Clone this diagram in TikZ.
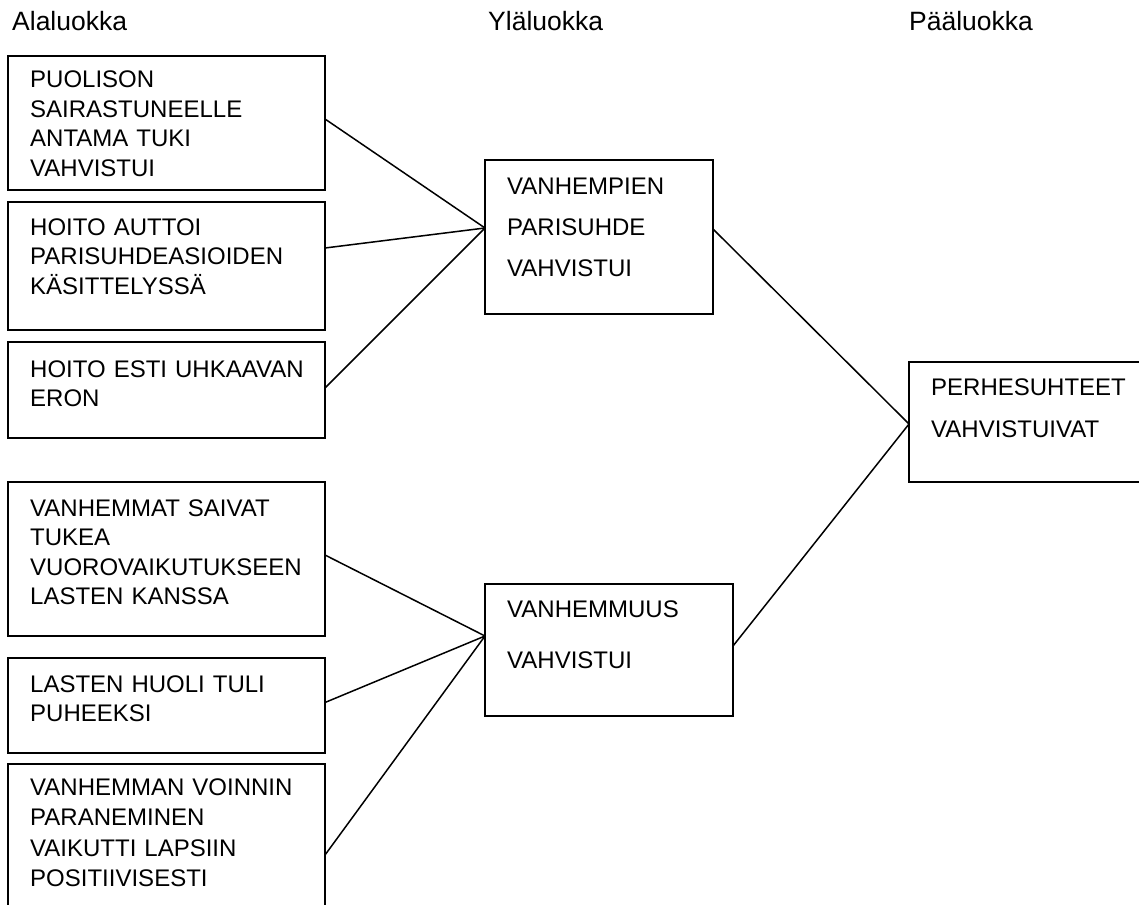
\documentclass[tikz,border=0pt]{standalone}
\usepackage{fontspec}
\setmainfont{Liberation Sans}
\usepackage{tikz}
\usetikzlibrary{calc}
\tikzset{
  box/.style={draw=black, line width=1.8pt, anchor=north west, inner sep=0pt, outer sep=0pt},
  txt/.style={anchor=base west, inner sep=0pt, align=left, text width=300pt, font=\fontsize{24}{29.5}\selectfont},
  head/.style={anchor=base west, inner sep=0pt, font=\fontsize{26.5}{30}\selectfont},
  link/.style={draw=black, line width=1.5pt, line cap=round},
}

\begin{document}
\begin{tikzpicture}[x=1pt,y=-1pt]
  \useasboundingbox (0,0) rectangle (1139,904);
  \clip (0,0) rectangle (1139,904);

  \node[head] (hala) at (12,31) {Alaluokka};
  \node[head] (hyla) at (488,31) {Yläluokka};
  \node[head] (hpaa) at (909,31) {Pääluokka};

  \node[box, minimum width=317pt, minimum height=134pt] (b1) at (8,56) {};
  \node[box, minimum width=317pt, minimum height=128pt] (b2) at (8,202) {};
  \node[box, minimum width=317pt, minimum height=96pt] (b3) at (8,342) {};
  \node[box, minimum width=317pt, minimum height=154pt] (b4) at (8,482) {};
  \node[box, minimum width=317pt, minimum height=95pt] (b5) at (8,658) {};
  \node[box, minimum width=317pt, minimum height=182pt] (b6) at (8,764) {};
  \node[box, minimum width=228pt, minimum height=154pt] (m1) at (485,160) {};
  \node[box, minimum width=248pt, minimum height=132pt] (m2) at (485,584) {};
  \node[box, minimum width=241pt, minimum height=120pt] (p) at (909,362) {};

  \node[txt] (t1) at (30,88) {PUOLISON\\SAIRASTUNEELLE\\ANTAMA TUKI\\VAHVISTUI};
  \node[txt] (t2) at (30,235) {HOITO AUTTOI\\PARISUHDEASIOIDEN\\KÄSITTELYSSÄ};
  \node[txt] (t3) at (30,377) {HOITO ESTI UHKAAVAN\\ERON};
  \node[txt] (t4) at (30,516) {VANHEMMAT SAIVAT\\TUKEA\\VUOROVAIKUTUKSEEN\\LASTEN KANSSA};
  \node[txt] (t5) at (30,692) {LASTEN HUOLI TULI\\PUHEEKSI};
  \node[txt, font=\fontsize{24}{30.5}\selectfont] (t6) at (30,795) {VANHEMMAN VOINNIN\\PARANEMINEN\\VAIKUTTI LAPSIIN\\POSITIIVISESTI};
  \node[txt, text width=200pt, font=\fontsize{24}{41}\selectfont] (tm1) at (507,194) {VANHEMPIEN\\PARISUHDE\\VAHVISTUI};
  \node[txt, text width=200pt, font=\fontsize{24}{51}\selectfont] (tm2) at (507,617) {VANHEMMUUS\\VAHVISTUI};
  \node[txt, text width=200pt, font=\fontsize{24}{42}\selectfont] (tp) at (931,395) {PERHESUHTEET\\VAHVISTUIVAT};

  \coordinate (j1) at ([yshift=9pt]m1.west);
  \coordinate (j2) at ([yshift=14pt]m2.west);
  \coordinate (j3) at ([yshift=-2pt]p.west);

  \draw[link] ([yshift=4pt]b1.east) -- (j1);
  \draw[link] ([yshift=18pt]b2.east) -- (j1);
  \draw[link] ([yshift=2pt]b3.east) -- (j1);
  \draw[link] ([yshift=4pt]b4.east) -- (j2);
  \draw[link] ([yshift=3pt]b5.east) -- (j2);
  \draw[link] (b6.east) -- (j2);
  \draw[link] ([yshift=8pt]m1.east) -- (j3);
  \draw[link] ([yshift=4pt]m2.east) -- (j3);
\end{tikzpicture}
\end{document}
